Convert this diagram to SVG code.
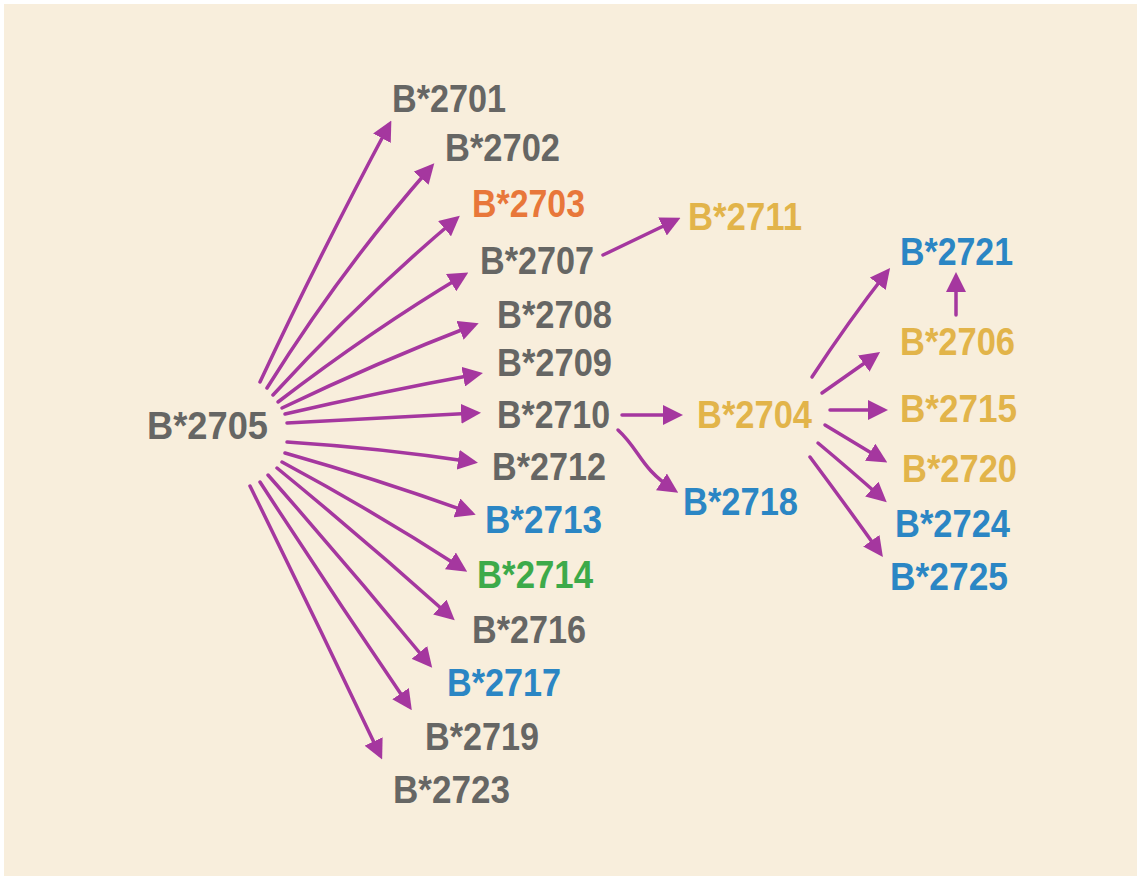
<svg xmlns="http://www.w3.org/2000/svg" width="1143" height="884" viewBox="0 0 1143 884">
  <style>
    .lbl { font-family: "Liberation Sans", Arial, sans-serif; font-weight: bold; font-size: 38px; }
    .gray { fill: #666664; }
    .orange { fill: #E8773A; }
    .gold { fill: #E2B44A; }
    .blue { fill: #2B86C4; }
    .green { fill: #3DAA4A; }
    .edge { fill: none; stroke: #A5379F; stroke-width: 3.5; stroke-linecap: round; marker-end: url(#arrow); }
  </style>
  <defs>
    <marker id="arrow" markerUnits="userSpaceOnUse" viewBox="0 0 20 20" refX="15" refY="10" markerWidth="20" markerHeight="20" orient="auto">
      <path d="M0,0 L20,10 L0,20 z" fill="#A5379F"/>
    </marker>
  </defs>

  <rect x="0" y="0" width="1143" height="884" fill="#FFFFFF"/>
  <rect x="4" y="4" width="1133" height="872" fill="#F8EEDC"/>

  <!-- connectors -->
  <g id="connectors">
    <!-- fan out from B*2705 -->
    <path class="edge" d="M260,382 Q318,258 389,125"/>
    <path class="edge" d="M267,388 Q342,268 431,167"/>
    <path class="edge" d="M273,395 Q360,300 456,219"/>
    <path class="edge" d="M278,402 Q372,330 464,275"/>
    <path class="edge" d="M282,408 Q378,362 474,325"/>
    <path class="edge" d="M285,414 Q380,392 478,374"/>
    <path class="edge" d="M287,423 L476,413"/>
    <path class="edge" d="M287,442 Q380,448 473,462"/>
    <path class="edge" d="M285,453 Q380,480 471,513"/>
    <path class="edge" d="M282,462 Q375,512 463,569"/>
    <path class="edge" d="M277,468 Q365,540 451,617"/>
    <path class="edge" d="M268,475 Q350,568 429,664"/>
    <path class="edge" d="M260,482 Q334,596 409,706"/>
    <path class="edge" d="M250,486 Q316,620 380,755"/>
    <!-- second level -->
    <path class="edge" d="M603,255 L676,220"/>
    <path class="edge" d="M622,415 L678,415"/>
    <path class="edge" d="M618,430 C640,450 640,468 674,490"/>
    <!-- third level from B*2704 -->
    <path class="edge" d="M812,377 Q848,322 887,272"/>
    <path class="edge" d="M822,393 L876,355"/>
    <path class="edge" d="M830,410 L883,410"/>
    <path class="edge" d="M825,425 L883,460"/>
    <path class="edge" d="M818,443 Q848,468 883,499"/>
    <path class="edge" d="M810,457 Q848,508 880,553"/>
    <!-- B*2706 to B*2721 -->
    <path class="edge" d="M956,315 L956,277"/>
  </g>

  <!-- nodes -->
  <g id="n2705"><text class="lbl gray" x="147" y="439" textLength="121" lengthAdjust="spacingAndGlyphs">B*2705</text></g>
  <g id="n2701"><text class="lbl gray" x="392" y="112" textLength="114" lengthAdjust="spacingAndGlyphs">B*2701</text></g>
  <g id="n2702"><text class="lbl gray" x="445" y="161" textLength="115" lengthAdjust="spacingAndGlyphs">B*2702</text></g>
  <g id="n2703"><text class="lbl orange" x="472" y="217" textLength="113" lengthAdjust="spacingAndGlyphs">B*2703</text></g>
  <g id="n2707"><text class="lbl gray" x="480" y="274" textLength="114" lengthAdjust="spacingAndGlyphs">B*2707</text></g>
  <g id="n2708"><text class="lbl gray" x="497" y="328" textLength="115" lengthAdjust="spacingAndGlyphs">B*2708</text></g>
  <g id="n2709"><text class="lbl gray" x="497" y="376" textLength="115" lengthAdjust="spacingAndGlyphs">B*2709</text></g>
  <g id="n2710"><text class="lbl gray" x="497" y="428" textLength="113" lengthAdjust="spacingAndGlyphs">B*2710</text></g>
  <g id="n2712"><text class="lbl gray" x="492" y="480" textLength="114" lengthAdjust="spacingAndGlyphs">B*2712</text></g>
  <g id="n2713"><text class="lbl blue" x="485" y="533" textLength="117" lengthAdjust="spacingAndGlyphs">B*2713</text></g>
  <g id="n2714"><text class="lbl green" x="477" y="588" textLength="116" lengthAdjust="spacingAndGlyphs">B*2714</text></g>
  <g id="n2716"><text class="lbl gray" x="472" y="643" textLength="114" lengthAdjust="spacingAndGlyphs">B*2716</text></g>
  <g id="n2717"><text class="lbl blue" x="447" y="696" textLength="114" lengthAdjust="spacingAndGlyphs">B*2717</text></g>
  <g id="n2719"><text class="lbl gray" x="425" y="750" textLength="114" lengthAdjust="spacingAndGlyphs">B*2719</text></g>
  <g id="n2723"><text class="lbl gray" x="393" y="803" textLength="117" lengthAdjust="spacingAndGlyphs">B*2723</text></g>
  <g id="n2711"><text class="lbl gold" x="688" y="230" textLength="114" lengthAdjust="spacingAndGlyphs">B*2711</text></g>
  <g id="n2704"><text class="lbl gold" x="697" y="428" textLength="115" lengthAdjust="spacingAndGlyphs">B*2704</text></g>
  <g id="n2718"><text class="lbl blue" x="683" y="515" textLength="115" lengthAdjust="spacingAndGlyphs">B*2718</text></g>
  <g id="n2721"><text class="lbl blue" x="900" y="265" textLength="113" lengthAdjust="spacingAndGlyphs">B*2721</text></g>
  <g id="n2706"><text class="lbl gold" x="900" y="355" textLength="115" lengthAdjust="spacingAndGlyphs">B*2706</text></g>
  <g id="n2715"><text class="lbl gold" x="900" y="422" textLength="117" lengthAdjust="spacingAndGlyphs">B*2715</text></g>
  <g id="n2720"><text class="lbl gold" x="902" y="482" textLength="115" lengthAdjust="spacingAndGlyphs">B*2720</text></g>
  <g id="n2724"><text class="lbl blue" x="895" y="537" textLength="115" lengthAdjust="spacingAndGlyphs">B*2724</text></g>
  <g id="n2725"><text class="lbl blue" x="890" y="590" textLength="118" lengthAdjust="spacingAndGlyphs">B*2725</text></g>
</svg>
